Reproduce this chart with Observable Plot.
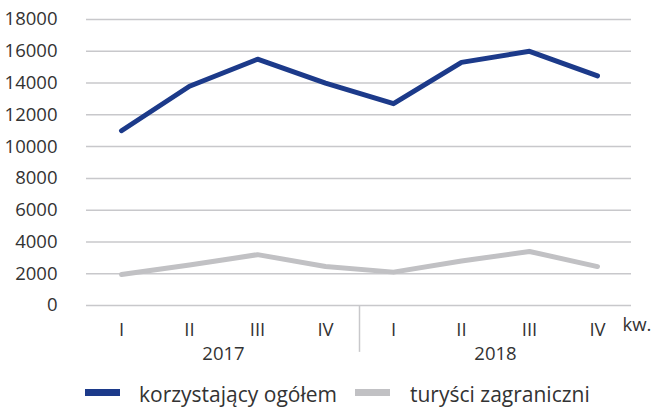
<!DOCTYPE html>
<html><head><meta charset="utf-8">
<script src="https://cdn.jsdelivr.net/npm/d3@7"></script>
<script src="https://cdn.jsdelivr.net/npm/@observablehq/plot@0.6"></script>
<style>
body{margin:0;background:#fff;font-family:"Open Sans",sans-serif;color:#333;}
#chart svg{display:block;}
#legend{position:relative;width:651px;height:37px;font-size:21px;overflow:hidden;}
#legend .sw{position:absolute;top:19px;height:7px;}
#legend .lb{position:absolute;top:10px;line-height:normal;white-space:nowrap;}
</style></head><body>
<div id="chart"></div>
<div id="legend"></div>
<script>
const years = ["2017", "2018"];
const quarters = ["I", "II", "III", "IV"];
const ogolem = [11000, 13800, 15500, 14000, 12700, 15300, 16000, 14450];
const zagraniczni = [1950, 2550, 3200, 2450, 2100, 2800, 3400, 2450];
const yTicks = [0, 2000, 4000, 6000, 8000, 10000, 12000, 14000, 16000, 18000];
const seriesNames = ["korzystający ogółem", "turyści zagraniczni"];
const seriesColors = ["#1c3a8a", "#c1c1c4"];

const keys = years.flatMap(y => quarters.map(q => `${y}-${q}`));
const rows = keys.map((k, i) => ({key: k, ogolem: ogolem[i], zagr: zagraniczni[i]}));

const chart = Plot.plot({
  width: 651, height: 370,
  marginLeft: 86, marginRight: 20, marginTop: 19, marginBottom: 65,
  style: {fontFamily: "'Open Sans', sans-serif", fontSize: "18px", color: "#333", background: "#fff", overflow: "visible"},
  x: {type: "point", domain: keys, padding: 0.5, label: null},
  y: {domain: [0, 18000], label: null},
  marks: [
    Plot.ruleY(yTicks, {stroke: "#c8c8cb", strokeWidth: 1.5}),
    Plot.ruleX(["2018-I"], {x: d => d, dx: -34, y1: 0, y2: -2950, stroke: "#c8c8cb", strokeWidth: 1.5}),
    Plot.axisY({ticks: yTicks, tickSize: 0, tickPadding: 29, tickFormat: d3.format("d"), fontSize: 18.5, fill: "#333", label: null}),
    Plot.axisX({tickSize: 0, tickPadding: 17, tickFormat: d => d.split("-")[1], fontSize: 18.5, fill: "#333", label: null}),
    Plot.text(years, {x: y => `${y}-II`, dx: 34, frameAnchor: "bottom", dy: 54, text: d => d, fontSize: 18.5, fill: "#333"}),
    Plot.text(["kw."], {x: () => "2018-IV", dx: 25, textAnchor: "start", frameAnchor: "bottom", dy: 25, text: d => d, fontSize: 18.5, fill: "#333"}),
    Plot.line(rows, {x: "key", y: "zagr", stroke: seriesColors[1], strokeWidth: 5, strokeLinecap: "round"}),
    Plot.line(rows, {x: "key", y: "ogolem", stroke: seriesColors[0], strokeWidth: 5, strokeLinecap: "round"})
  ]
});
document.getElementById("chart").appendChild(chart);

const legend = document.getElementById("legend");
const pos = [{sw: 85, lb: 139}, {sw: 355, lb: 410}];
seriesNames.forEach((name, i) => {
  const s = document.createElement("div");
  s.className = "sw";
  s.style.left = pos[i].sw + "px";
  s.style.width = "35px";
  s.style.background = seriesColors[i];
  legend.appendChild(s);
  const l = document.createElement("div");
  l.className = "lb";
  l.style.left = pos[i].lb + "px";
  l.textContent = name;
  legend.appendChild(l);
});
</script>
</body></html>
